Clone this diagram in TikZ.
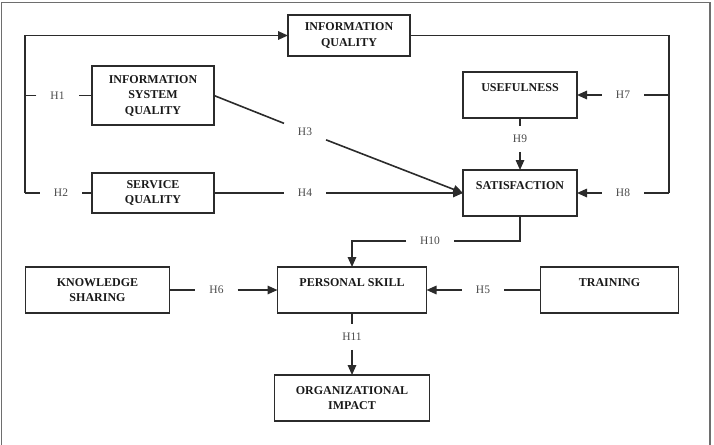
\documentclass[tikz,border=0pt]{standalone}
\usepackage{fontspec}
\setmainfont{Liberation Serif}
\usetikzlibrary{arrows.meta, positioning}
\definecolor{linegray}{HTML}{2B2B2B}
\definecolor{labelgray}{HTML}{4A4A4A}
\definecolor{framegray}{HTML}{6E6E6E}

\begin{document}
\begin{tikzpicture}[
  x=1pt, y=-1pt,
  node distance=50pt and 100pt,
  box/.style={draw=linegray, line width=1.6pt, outer sep=0pt, align=center, minimum height=46pt, inner sep=2pt, font=\fontsize{12}{15.5}\selectfont\bfseries, text=black!90},
  hyp/.style={inner xsep=14pt, inner ysep=9pt, outer sep=0pt, font=\fontsize{11.5}{14}\selectfont, text=labelgray},
  line/.style={draw=linegray, line width=1.6pt},
  arrow/.style={line, -{Triangle[length=10pt, width=8.5pt]}}
]
\useasboundingbox (0,0) rectangle (714,444);
\draw[framegray, line width=1.4pt] (1.5,2.5) rectangle (710,470);

\node[box, minimum width=122pt, minimum height=41pt] (iq) at (349,35.5) {INFORMATION\\QUALITY};
\node[box, minimum width=114pt] (sat) at (520,193) {SATISFACTION\\\mbox{}};
\node[box, minimum width=114pt, above=52pt of sat] (usef) {USEFULNESS\\\mbox{}};
\node[box, minimum width=122pt, minimum height=40pt, left=249pt of sat] (sq) {SERVICE\\QUALITY};
\node[box, minimum width=122pt, minimum height=59pt, above=48pt of sq] (isq) {INFORMATION\\SYSTEM\\QUALITY};
\node[box, minimum width=149pt] (ps) at (352,290) {PERSONAL SKILL\\\mbox{}};
\node[box, minimum width=144pt, left=108pt of ps] (ks) {KNOWLEDGE\\SHARING};
\node[box, minimum width=138pt, right=114pt of ps] (tr) {TRAINING\\\mbox{}};
\node[box, minimum width=155pt, below=62pt of ps] (oi) {ORGANIZATIONAL\\IMPACT};

\node[hyp] (h1) at (57.5,95.5) {H1};
\node[hyp] (h2) at (61,193) {H2};
\node[hyp] (h3) at (305,131.7) {H3};
\node[hyp] (h4) at (305,193) {H4};
\node[hyp] (h7) at (623,95) {H7};
\node[hyp] (h8) at (623,193) {H8};
\node[hyp] (h9) at (520,139) {H9};
\node[hyp] (h10) at (430,241) {H10};
\node[hyp] (h6) at (216.5,290) {H6};
\node[hyp] (h5) at (483,290) {H5};
\node[hyp] (h11) at (352,337) {H11};

\coordinate (lt) at (25,35.5);
\coordinate (lb) at (25,193);
\coordinate (rt) at (669,35.5);
\coordinate (rb) at (669,193);

\draw[arrow] (lb) -- (lt) -- (iq.west);
\draw[line] (isq.west) -- (h1) (h1) -- (h1 -| lt);
\draw[line] (sq.west) -- (h2) (h2) -- (h2 -| lb);
\draw[line] (iq.east) -- (rt) -- (rb);
\draw[line] (h7) -- (h7 -| rt);
\draw[arrow] (h7) -- (usef.east);
\draw[line] (h8) -- (h8 -| rb);
\draw[arrow] (h8) -- (sat.east);
\draw[line] (isq.east) -- (h3);
\draw[arrow] (h3) -- (sat.west);
\draw[line] (sq.east) -- (h4);
\draw[arrow] (h4) -- (sat.west);
\draw[line] (usef.south) -- (h9);
\draw[arrow] (h9) -- (sat.north);
\draw[line] (sat.south) |- (h10);
\draw[arrow] (h10) -| (ps.north);
\draw[line] (ks.east) -- (h6);
\draw[arrow] (h6) -- (ps.west);
\draw[line] (tr.west) -- (h5);
\draw[arrow] (h5) -- (ps.east);
\draw[line] (ps.south) -- (h11);
\draw[arrow] (h11) -- (oi.north);
\end{tikzpicture}
\end{document}
